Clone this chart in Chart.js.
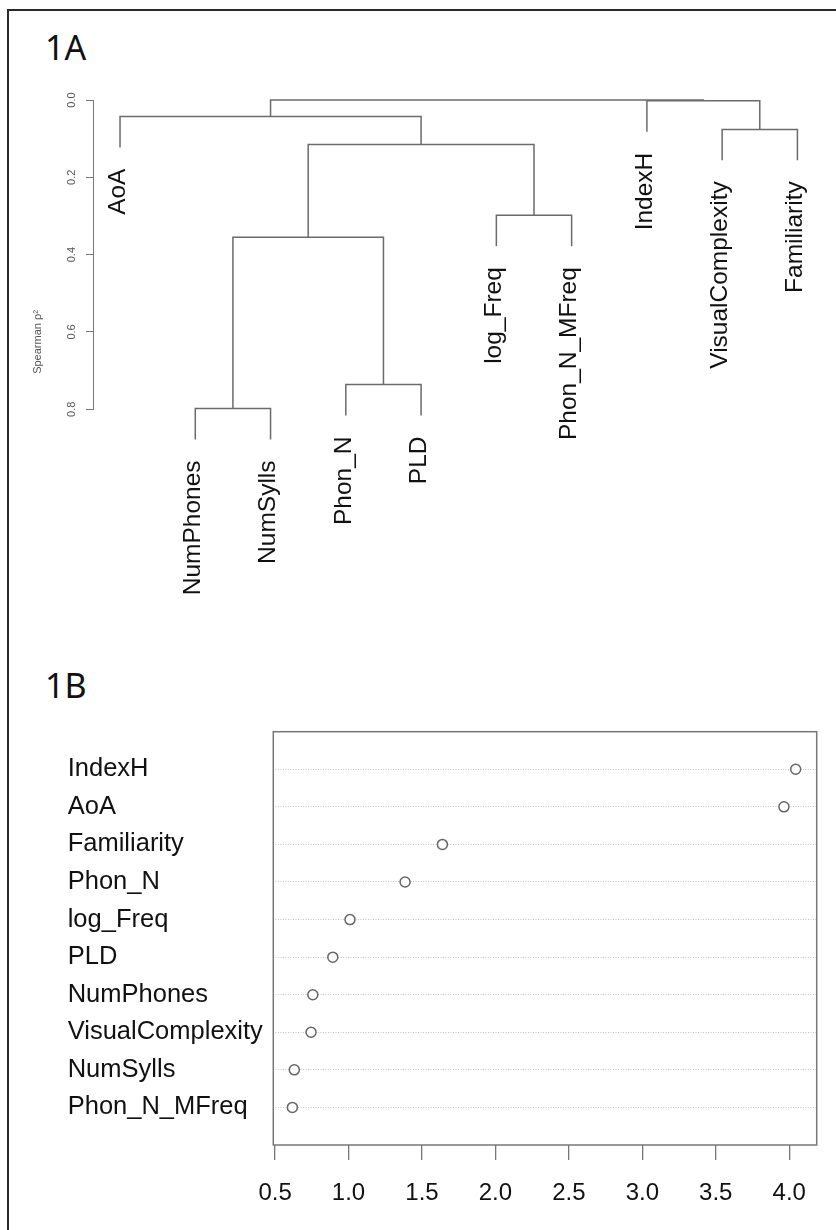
<!DOCTYPE html>
<html>
<head>
<meta charset="utf-8">
<script src="https://cdn.jsdelivr.net/npm/chart.js@4.4.1/dist/chart.umd.min.js"></script>
<style>
  html, body { margin: 0; padding: 0; background: #fff; }
  #page { position: relative; width: 836px; height: 1230px; overflow: hidden; background: #fff; }
  #frame { position: absolute; left: 7px; top: 9px; width: 900px; height: 1300px;
           border-left: 2px solid #2a2a2a; border-top: 2px solid #2a2a2a; box-sizing: border-box; }
  .ttl { position: absolute; left: 45px; font-family: 'Noto Sans', sans-serif; font-size: 34px;
         line-height: 34px; color: #111; }
  canvas { position: absolute; left: 0; }
</style>
</head>
<body>
<div id="page">
  <div id="frame"></div>
  <div class="ttl" style="top:30px">1A</div>
  <div class="ttl" style="top:668px">1B</div>
  <canvas id="cA" width="836" height="640" style="top:0px"></canvas>
  <canvas id="cB" width="836" height="590" style="top:640px"></canvas>
</div>
<script>
// ---------- 1A: variable clustering dendrogram ----------
const leafLabels = ['AoA', 'NumPhones', 'NumSylls', 'Phon_N', 'PLD', 'log_Freq',
                    'Phon_N_MFreq', 'IndexH', 'VisualComplexity', 'Familiarity'];
// merges (R hclust style: negative = leaf number, positive = earlier merge number)
const mergeLeft   = [-2, -4, 1, -6, 3, -9, -1, -8, 7];
const mergeRight  = [-3, -5, 2, -7, 4, -10, 5, 6, 8];
const mergeHeight = [0.798, 0.736, 0.355, 0.298, 0.115, 0.076, 0.043, 0.002, 0.0];
const leafHang = 0.08;
const yTicksA = [0.0, 0.2, 0.4, 0.6, 0.8];
const yTitleA = 'Spearman \u03c1\u00b2';

// ---------- 1B: variable importance dot chart ----------
const importanceLabels = ['IndexH', 'AoA', 'Familiarity', 'Phon_N', 'log_Freq', 'PLD',
                          'NumPhones', 'VisualComplexity', 'NumSylls', 'Phon_N_MFreq'];
const importanceValues = [4.044, 3.964, 1.639, 1.385, 1.010, 0.893, 0.757, 0.745, 0.631, 0.618];
const xTicksB = [0.5, 1.0, 1.5, 2.0, 2.5, 3.0, 3.5, 4.0];

const FONT = "'Liberation Sans', Arial, sans-serif";

// build dendrogram segments in data space
const nodeX = [];
const leafBottom = new Array(leafLabels.length).fill(0);
const segDatasets = [];
for (let i = 0; i < mergeHeight.length; i++) {
  const h = mergeHeight[i];
  const kids = [mergeLeft[i], mergeRight[i]].map(c => {
    if (c < 0) {
      const idx = -c - 1;
      leafBottom[idx] = h + leafHang;
      return { x: idx, y: h + leafHang };
    }
    return { x: nodeX[c - 1], y: mergeHeight[c - 1] };
  });
  nodeX[i] = (kids[0].x + kids[1].x) / 2;
  segDatasets.push({
    data: [ { x: kids[0].x, y: kids[0].y }, { x: kids[0].x, y: h },
            { x: kids[1].x, y: h }, { x: kids[1].x, y: kids[1].y } ],
    showLine: true, pointRadius: 0, borderColor: '#6b6b6b', borderWidth: 1.5,
    tension: 0, clip: false, fill: false
  });
}

const leafLabelPlugin = {
  id: 'leafLabels',
  afterDatasetsDraw(chart) {
    const { ctx, scales: { x, y } } = chart;
    ctx.save();
    ctx.fillStyle = '#111';
    ctx.font = '24.5px ' + FONT;
    ctx.textAlign = 'right';
    ctx.textBaseline = 'middle';
    leafLabels.forEach((lab, i) => {
      const px = x.getPixelForValue(i) - 2;
      const py = y.getPixelForValue(leafBottom[i]) + 21;
      ctx.save();
      ctx.translate(px, py);
      ctx.rotate(-Math.PI / 2);
      ctx.fillText(lab, 0, 0);
      ctx.restore();
    });
    // axis title
    ctx.fillStyle = '#555';
    ctx.font = '11px ' + FONT;
    ctx.textAlign = 'center';
    ctx.save();
    ctx.translate(38, 342);
    ctx.rotate(-Math.PI / 2);
    ctx.fillText(yTitleA, 0, 0);
    ctx.restore();
    ctx.restore();
  }
};

new Chart(document.getElementById('cA'), {
  type: 'scatter',
  data: { datasets: segDatasets },
  options: {
    responsive: false, animation: false, devicePixelRatio: 1,
    layout: { padding: { top: 100, bottom: 640 - 409.3, left: 0, right: 16 } },
    plugins: { legend: { display: false }, tooltip: { enabled: false } },
    scales: {
      x: { type: 'linear', min: -0.359, max: 9.3, display: false },
      y: {
        type: 'linear', min: 0, max: 0.8, reverse: true,
        afterBuildTicks: s => { s.ticks = yTicksA.map(v => ({ value: v })); },
        afterFit: s => { s.width = 93; },
        ticks: { minRotation: 90, maxRotation: 90, crossAlign: 'center', padding: 6.5,
                 color: '#555', font: { family: FONT, size: 11 },
                 callback: v => Number(v).toFixed(1) },
        grid: { display: true, drawOnChartArea: false, tickLength: 7, color: '#777', lineWidth: 1 },
        border: { display: true, color: '#777', width: 1 }
      }
    }
  },
  plugins: [leafLabelPlugin]
});

const boxPlugin = {
  id: 'box',
  afterDraw(chart) {
    const { ctx, chartArea: a } = chart;
    ctx.save();
    ctx.strokeStyle = '#777';
    ctx.lineWidth = 1.5;
    ctx.strokeRect(a.left, a.top, a.right - a.left, a.bottom - a.top);
    ctx.restore();
  }
};

new Chart(document.getElementById('cB'), {
  type: 'scatter',
  data: {
    datasets: [{
      data: importanceValues.map((v, i) => ({ x: v, y: i })),
      pointRadius: 5, pointHoverRadius: 5, pointBorderWidth: 1.5,
      pointBorderColor: '#666', pointBackgroundColor: '#fff', showLine: false
    }]
  },
  options: {
    responsive: false, animation: false, devicePixelRatio: 1,
    layout: { padding: { top: 91.7, right: 19.3, left: 67.7, bottom: 0 } },
    plugins: { legend: { display: false }, tooltip: { enabled: false } },
    scales: {
      x: {
        type: 'linear', min: 0.488, max: 4.187,
        afterBuildTicks: s => { s.ticks = xTicksB.map(v => ({ value: v })); },
        afterFit: s => { s.height = 85; },
        ticks: { padding: 19, color: '#111', font: { family: FONT, size: 24 },
                 maxRotation: 0, minRotation: 0, autoSkip: false,
                 callback: v => Number(v).toFixed(1) },
        grid: { drawOnChartArea: false, tickLength: 15, color: '#777', lineWidth: 1.3 },
        border: { display: false }
      },
      y: {
        type: 'linear', min: -1, max: 10, reverse: true,
        afterBuildTicks: s => { s.ticks = importanceLabels.map((_, i) => ({ value: i })); },
        afterFit: s => { s.width = 205.6; },
        ticks: { crossAlign: 'far', padding: 0, color: '#111', font: { family: FONT, size: 25.5 },
                 autoSkip: false, callback: v => importanceLabels[v] },
        grid: { drawTicks: false, color: '#c4c4c4', lineWidth: 1 },
        border: { display: false, dash: [1, 1.5] }
      }
    }
  },
  plugins: [boxPlugin]
});
</script>
</body>
</html>
